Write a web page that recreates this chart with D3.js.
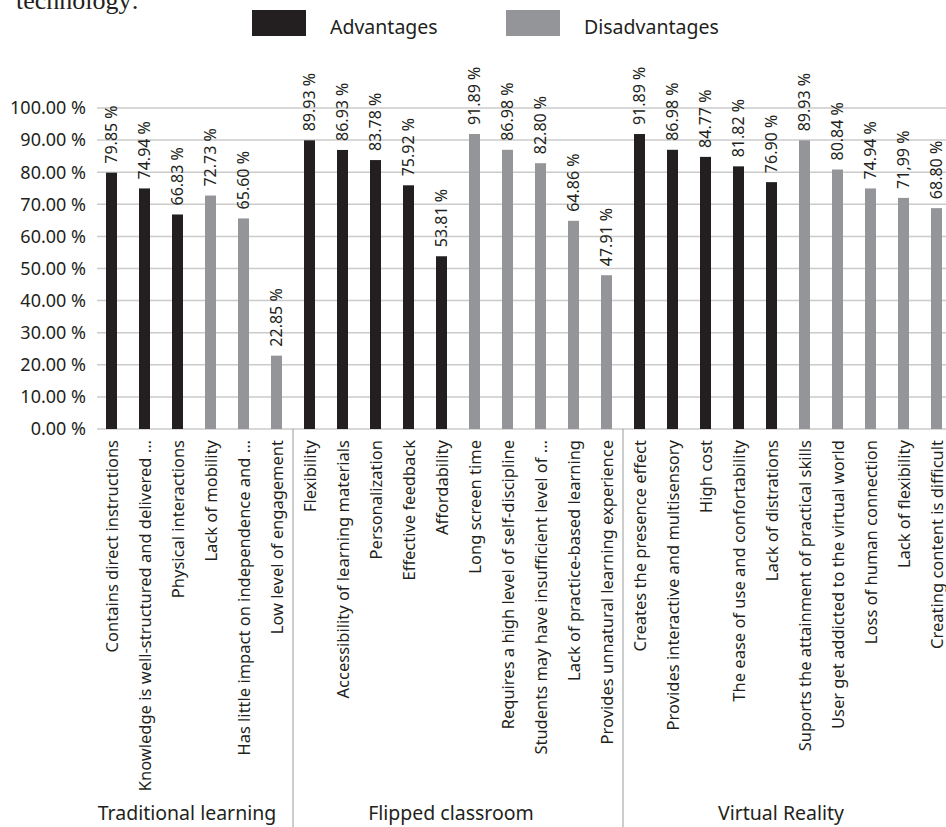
<!DOCTYPE html>
<html>
<head>
<meta charset="utf-8">
<script src="https://cdn.jsdelivr.net/npm/d3@7"></script>
<style>
  html, body { margin: 0; padding: 0; background: #fff; }
  svg { display: block; }
  text { font-family: "Noto Sans", "Open Sans", sans-serif; fill: #231f20; }
</style>
</head>
<body>
<svg id="chart" width="946" height="827"></svg>
<script>
// categories and values
const groups = ["Traditional learning", "Flipped classroom", "Virtual Reality"];

const categories = [
  "Contains direct instructions",
  "Knowledge is well-structured and delivered ...",
  "Physical interactions",
  "Lack of mobility",
  "Has little impact on independence and ...",
  "Low level of engagement",
  "Flexibility",
  "Accessibility of learning materials",
  "Personalization",
  "Effective feedback",
  "Affordability",
  "Long screen time",
  "Requires a high level of self-discipline",
  "Students may have insufficient level of ...",
  "Lack of practice-based learning",
  "Provides unnatural learning experience",
  "Creates the presence effect",
  "Provides interactive and multisensory",
  "High cost",
  "The ease of use and confortability",
  "Lack of distrations",
  "Suports the attainment of practical skills",
  "User get addicted to the virtual world",
  "Loss of human connection",
  "Lack of flexibility",
  "Creating content is difficult"
];

const groupOf = [0,0,0,0,0,0, 1,1,1,1,1,1,1,1,1,1, 2,2,2,2,2,2,2,2,2,2];

// A = advantage, D = disadvantage
const kinds = ["A","A","A","D","D","D",
               "A","A","A","A","A","D","D","D","D","D",
               "A","A","A","A","A","D","D","D","D","D"];

const values = [79.85, 74.94, 66.83, 72.73, 65.60, 22.85,
                89.93, 86.93, 83.78, 75.92, 53.81, 91.89, 86.98, 82.80, 64.86, 47.91,
                91.89, 86.98, 84.77, 81.82, 76.90, 89.93, 80.84, 74.94, 71.99, 68.80];

// the source prints this one with a decimal comma
const commaLabels = ["Lack of flexibility"];

const yTicks = [0, 10, 20, 30, 40, 50, 60, 70, 80, 90, 100];

const legendItems = [
  { key: "A", label: "Advantages" },
  { key: "D", label: "Disadvantages" }
];

const colors = { A: "#231f20", D: "#939598" };

const svg = d3.select("#chart");

const x = d3.scaleBand()
  .domain(categories)
  .range([95, 953])
  .paddingInner(2 / 3)
  .paddingOuter(1 / 3);

const y = d3.scaleLinear()
  .domain([0, 100])
  .range([429, 108]);

// cropped caption line above the figure
svg.append("text")
  .attr("x", 16)
  .attr("y", 9)
  .style("font-family", "'Liberation Serif', 'DejaVu Serif', serif")
  .style("font-size", "26px")
  .text("technology:");

// gridlines
svg.append("g")
  .selectAll("line")
  .data(yTicks)
  .enter().append("line")
  .attr("x1", 97)
  .attr("x2", 946)
  .attr("y1", (d) => y(d))
  .attr("y2", (d) => y(d))
  .style("stroke", "#cbcbcb")
  .style("stroke-width", 1.5);

// y axis labels
const fmt = d3.format(".2f");
svg.append("g")
  .selectAll("text")
  .data(yTicks)
  .enter().append("text")
  .attr("x", 86)
  .attr("y", (d) => y(d))
  .attr("dy", "0.35em")
  .attr("text-anchor", "end")
  .style("font-size", "18px")
  .text((d) => fmt(d) + " %");

// group separators
const groupEdges = [];
groupOf.forEach((g, i) => {
  if (i > 0 && groupOf[i - 1] !== g) {
    groupEdges.push((x(categories[i - 1]) + x(categories[i]) + x.bandwidth()) / 2);
  }
});
svg.append("g")
  .selectAll("line")
  .data(groupEdges)
  .enter().append("line")
  .attr("x1", (d) => d)
  .attr("x2", (d) => d)
  .attr("y1", y(0))
  .attr("y2", 827)
  .style("stroke", "#9a9a9a")
  .style("stroke-width", 1);

// bars
const rows = categories.map((c, i) => ({ cat: c, value: values[i], kind: kinds[i], group: groupOf[i] }));

svg.append("g")
  .selectAll("rect")
  .data(rows)
  .enter().append("rect")
  .attr("x", (d) => x(d.cat))
  .attr("width", x.bandwidth())
  .attr("y", (d) => y(d.value))
  .attr("height", (d) => y(0) - y(d.value))
  .style("fill", (d) => colors[d.kind]);

// value labels, rotated
svg.append("g")
  .selectAll("text")
  .data(rows)
  .enter().append("text")
  .attr("transform", (d) => "translate(" + (x(d.cat) + x.bandwidth() / 2) + "," + (y(d.value) - 9) + ") rotate(-90)")
  .attr("dy", "0.35em")
  .attr("text-anchor", "start")
  .style("font-size", "16px")
  .text((d) => {
    const s = fmt(d.value);
    return (commaLabels.indexOf(d.cat) >= 0 ? s.replace(".", ",") : s) + " %";
  });

// category labels under the axis
svg.append("g")
  .selectAll("text")
  .data(rows)
  .enter().append("text")
  .attr("transform", (d) => "translate(" + (x(d.cat) + x.bandwidth() / 2 + 1) + "," + 440 + ") rotate(-90)")
  .attr("dy", "0.35em")
  .attr("text-anchor", "end")
  .style("font-size", "16.5px")
  .text((d) => d.cat);

// group names
svg.append("g")
  .selectAll("text")
  .data(groups)
  .enter().append("text")
  .attr("x", (g, gi) => {
    const idx = d3.range(categories.length).filter((i) => groupOf[i] === gi);
    const first = x(categories[idx[0]]);
    const last = x(categories[idx[idx.length - 1]]) + x.bandwidth();
    return (first + last) / 2 - 7;
  })
  .attr("y", 820)
  .attr("text-anchor", "middle")
  .style("font-size", "19.5px")
  .text((d) => d);

// legend
const legend = svg.append("g")
  .selectAll("g")
  .data(legendItems)
  .enter().append("g")
  .attr("transform", (d, i) => "translate(" + (252 + i * 254) + ",10)");

legend.append("rect")
  .attr("width", 54)
  .attr("height", 26)
  .style("fill", (d) => colors[d.key]);

legend.append("text")
  .attr("x", 78)
  .attr("y", 24)
  .style("font-size", "19.5px")
  .text((d) => d.label);
</script>
</body>
</html>
